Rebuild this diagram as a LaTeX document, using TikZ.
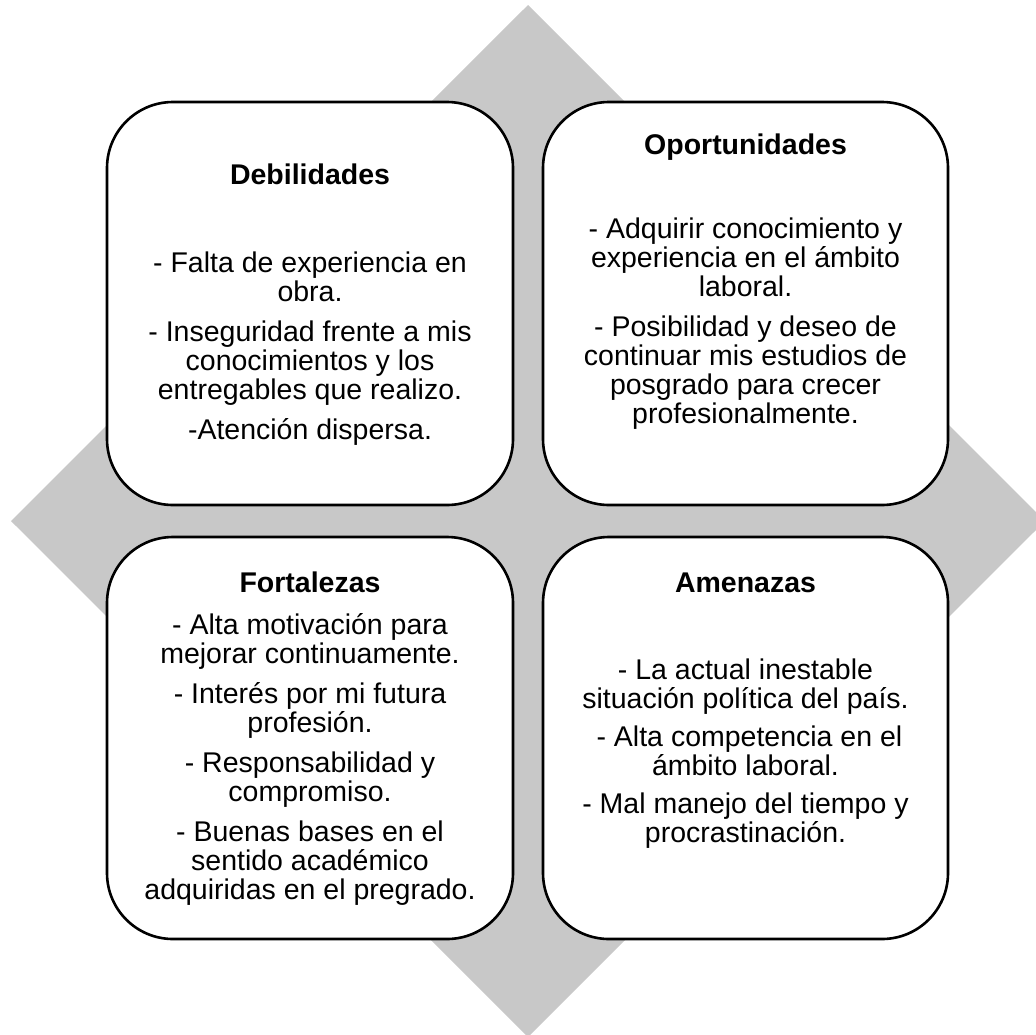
\documentclass[tikz,border=0pt]{standalone}
\usepackage{fontspec}
\setmainfont{Liberation Sans}
\definecolor{diamondgray}{RGB}{200,200,200}
\tikzset{
  swotbox/.style={draw=black, line width=2.6pt, rounded corners=66pt, fill=white, inner sep=0pt},
  swottext/.style={anchor=north, inner sep=0pt, align=center, font=\fontsize{28.5}{29}\selectfont},
}
\newcommand\topstrut{\rule{0pt}{24pt}}
\begin{document}
\begin{tikzpicture}[x=1pt,y=-1pt]
\useasboundingbox (0,0) rectangle (1036,1034);
% background diamond
\fill[diamondgray] (528,5) -- (1045,521) -- (528,1037) -- (11,521) -- cycle;
% boxes
\node[swotbox, minimum width=406pt, minimum height=403pt] (deb) at (310,303.5) {};
\node[swotbox, minimum width=405pt, minimum height=403pt] (opo) at (745.5,303.5) {};
\node[swotbox, minimum width=406pt, minimum height=402pt] (fort) at (310,738) {};
\node[swotbox, minimum width=405pt, minimum height=402pt] (ame) at (745.5,738) {};
% texts
\node[swottext] (debt) at (310,160) {\topstrut\textbf{Debilidades}\\[59pt]
- Falta de experiencia en\\obra.\\[11pt]
- Inseguridad frente a mis\\conocimientos y los\\entregables que realizo.\\[11pt]
-Atención dispersa.};
\node[swottext] (opot) at (745.5,130) {\topstrut\textbf{Oportunidades}\\[55pt]
- Adquirir conocimiento y\\experiencia en el ámbito\\laboral.\\[11pt]
- Posibilidad y deseo de\\continuar mis estudios de\\posgrado para crecer\\profesionalmente.};
\node[swottext] (fortt) at (310,568) {\topstrut\textbf{Fortalezas}\\[13pt]
- Alta motivación para\\mejorar continuamente.\\[11pt]
- Interés por mi futura\\profesión.\\[11pt]
- Responsabilidad y\\compromiso.\\[11pt]
- Buenas bases en el\\sentido académico\\adquiridas en el pregrado.};
\node[swottext] (amet) at (745.5,568) {\topstrut\textbf{Amenazas}\\[58pt]
- La actual inestable\\situación política del país.\\[9pt]
\ - Alta competencia en el\\ámbito laboral.\\[9pt]
- Mal manejo del tiempo y\\procrastinación.};
\end{tikzpicture}
\end{document}
